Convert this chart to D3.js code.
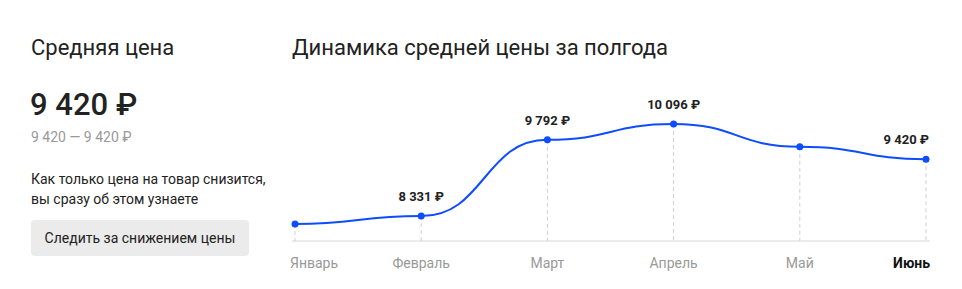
<!DOCTYPE html>
<html>
<head>
<meta charset="utf-8">
<script src="https://cdn.jsdelivr.net/npm/d3@7"></script>
<style>
  body { margin: 0; background: #fff; }
  svg { font-family: Roboto, "Noto Sans", sans-serif; }
</style>
</head>
<body>
<div id="chart"></div>
<script>
// data
let months = ['Январь', 'Февраль', 'Март', 'Апрель', 'Май', 'Июнь']
let prices = [8180, 8331, 9792, 10096, 9660, 9420]
let labelled = ['Февраль', 'Март', 'Апрель', 'Июнь']
let currentMonth = 'Июнь'

let avgPrice = 9420
let minPrice = 9420
let maxPrice = 9420

let width = 962
let height = 289

let fmt = v => d3.format(',')(v).replace(/,/g, ' ') + ' ₽'

let svg = d3.select('#chart').append('svg')
  .attr('width', width)
  .attr('height', height)

// left panel
svg.append('text')
  .attr('x', 31).attr('y', 55)
  .attr('font-size', 22).attr('fill', '#222')
  .text('Средняя цена')

svg.append('text')
  .attr('x', 30).attr('y', 115)
  .attr('font-size', 31).attr('font-weight', 500).attr('fill', '#222')
  .text(fmt(avgPrice))

svg.append('text')
  .attr('x', 31).attr('y', 142)
  .attr('font-size', 14).attr('fill', '#999')
  .text(d3.format(',')(minPrice).replace(/,/g, ' ') + ' — ' + fmt(maxPrice))

svg.append('text')
  .attr('x', 31).attr('y', 184)
  .attr('font-size', 14).attr('fill', '#222')
  .text('Как только цена на товар снизится,')

svg.append('text')
  .attr('x', 31).attr('y', 204)
  .attr('font-size', 14).attr('fill', '#222')
  .text('вы сразу об этом узнаете')

svg.append('rect')
  .attr('x', 31).attr('y', 220)
  .attr('width', 218).attr('height', 36)
  .attr('rx', 4)
  .attr('fill', '#ebebeb')

svg.append('text')
  .attr('x', 140).attr('y', 243)
  .attr('text-anchor', 'middle')
  .attr('font-size', 14).attr('fill', '#222')
  .text('Следить за снижением цены')

// chart
svg.append('text')
  .attr('x', 292).attr('y', 55)
  .attr('font-size', 22).attr('fill', '#222')
  .text('Динамика средней цены за полгода')

let x = d3.scalePoint()
  .domain(months)
  .range([295, 926])

let y = d3.scaleLinear()
  .domain([d3.min(prices), d3.max(prices)])
  .range([224, 124])

let data = months.map((m, i) => ({ month: m, price: prices[i] }))

let axisY = 241

svg.append('line')
  .attr('x1', 292).attr('x2', 930)
  .attr('y1', axisY).attr('y2', axisY)
  .attr('stroke', '#d6d6d6')

svg.selectAll('.grid')
  .data(data)
  .join('line')
  .attr('class', 'grid')
  .attr('x1', d => x(d.month)).attr('x2', d => x(d.month))
  .attr('y1', d => y(d.price)).attr('y2', axisY)
  .attr('stroke', '#d0d0d0')
  .attr('stroke-dasharray', '4,3')

let line = d3.line()
  .x(d => x(d.month))
  .y(d => y(d.price))
  .curve(d3.curveBumpX)

svg.append('path')
  .datum(data)
  .attr('d', line)
  .attr('fill', 'none')
  .attr('stroke', '#0d4cff')
  .attr('stroke-width', 2)

svg.selectAll('.dot')
  .data(data)
  .join('circle')
  .attr('class', 'dot')
  .attr('cx', d => x(d.month))
  .attr('cy', d => y(d.price))
  .attr('r', 3.5)
  .attr('fill', '#0d4cff')

svg.selectAll('.valueLabel')
  .data(data.filter(d => labelled.includes(d.month)))
  .join('text')
  .attr('class', 'valueLabel')
  .attr('x', d => d.month == currentMonth ? x(d.month) + 3 : x(d.month))
  .attr('y', d => y(d.price) - 15)
  .attr('text-anchor', d => d.month == currentMonth ? 'end' : 'middle')
  .attr('font-size', 13).attr('font-weight', 700).attr('fill', '#222')
  .text(d => fmt(d.price))

svg.selectAll('.monthLabel')
  .data(months)
  .join('text')
  .attr('class', 'monthLabel')
  .attr('x', (d, i) => i == 0 ? x(d) - 5 : (i == months.length - 1 ? x(d) + 4 : x(d)))
  .attr('y', 268)
  .attr('text-anchor', (d, i) => i == 0 ? 'start' : (i == months.length - 1 ? 'end' : 'middle'))
  .attr('font-size', 14)
  .attr('font-weight', d => d == currentMonth ? 700 : 400)
  .attr('fill', d => d == currentMonth ? '#111' : '#999')
  .text(d => d)
</script>
</body>
</html>
